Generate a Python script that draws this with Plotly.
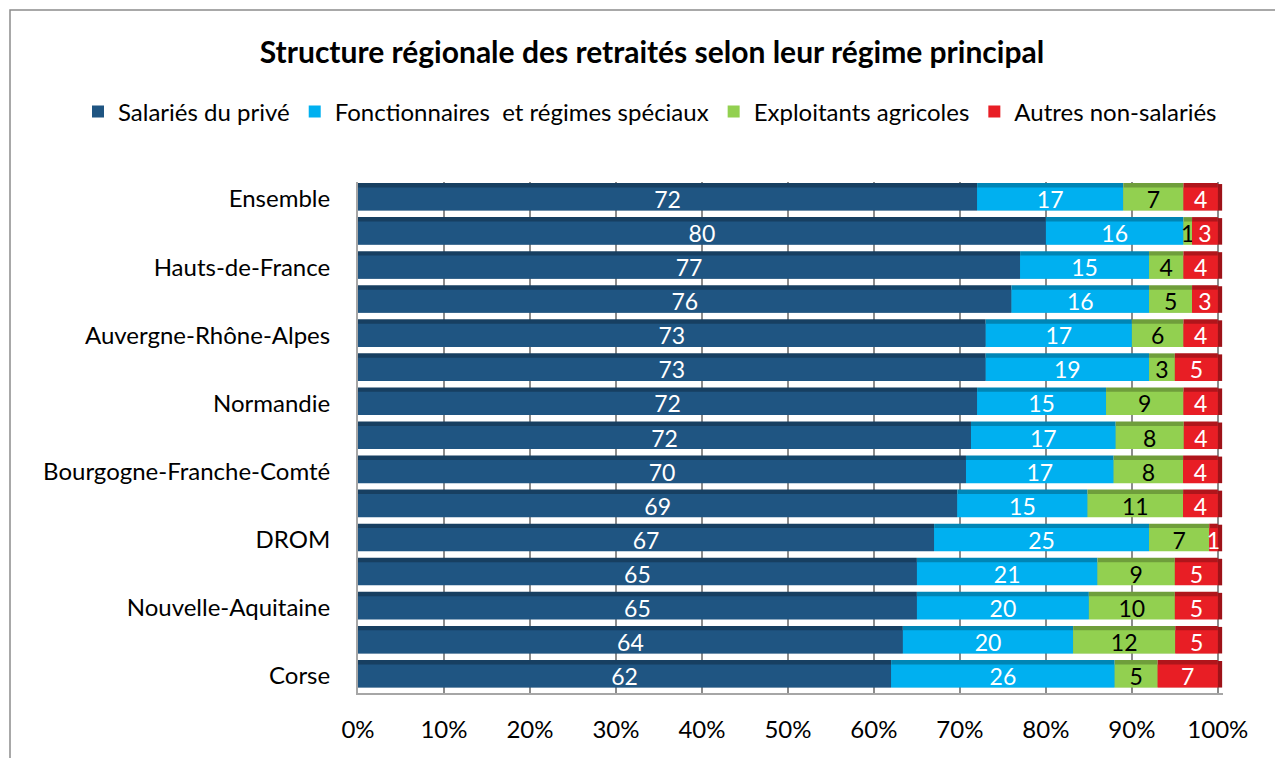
import plotly.graph_objects as go
import numpy as np

categories = ["Ensemble", "Île-de-France", "Hauts-de-France", "Grand Est",
              "Auvergne-Rhône-Alpes", "Provence-Alpes-Côte d'Azur", "Normandie",
              "Centre-Val de Loire", "Bourgogne-Franche-Comté", "Pays de la Loire",
              "DROM", "Occitanie", "Nouvelle-Aquitaine", "Bretagne", "Corse"]
shown_labels = ["Ensemble", "Hauts-de-France", "Auvergne-Rhône-Alpes", "Normandie",
                "Bourgogne-Franche-Comté", "DROM", "Nouvelle-Aquitaine", "Corse"]

salaries_prive = [72, 80, 77, 76, 73, 73, 72, 72, 70, 69, 67, 65, 65, 64, 62]
fonctionnaires = [17, 16, 15, 16, 17, 19, 15, 17, 17, 15, 25, 21, 20, 20, 26]
exploitants = [7, 1, 4, 5, 6, 3, 9, 8, 8, 11, 7, 9, 10, 12, 5]
autres = [4, 3, 4, 3, 4, 5, 4, 4, 4, 4, 1, 5, 5, 5, 7]

series_names = ["Salariés du privé", "Fonctionnaires  et régimes spéciaux",
                "Exploitants agricoles", "Autres non-salariés"]
series_values = [salaries_prive, fonctionnaires, exploitants, autres]
front_colors = ["#1F5582", "#00B0F0", "#92D050", "#E81E25"]
top_colors = ["#173F61", "#0085B5", "#6F9E3B", "#B0151B"]
text_colors = ["white", "white", "black", "white"]
tick_values = [0, 10, 20, 30, 40, 50, 60, 70, 80, 90, 100]
tick_labels = ["0%", "10%", "20%", "30%", "40%", "50%", "60%", "70%", "80%", "90%", "100%"]

vals = np.array(series_values, dtype=float)
totals = vals.sum(axis=0)
pct = vals / totals * 100
bases = np.vstack([np.zeros(len(categories)), np.cumsum(pct, axis=0)[:-1]])

FONT = "Lato"
# page offset of the figure (body margin)
OFF = 8
W, H = 1283, 758
L, R, T, B = 358 - OFF, W - (1223 - OFF), 182 - OFF, H - (693 - OFF)
PW, PH = W - L - R, H - T - B

fig = go.Figure()

# top faces (3D look)
for k in range(4):
    fig.add_trace(go.Bar(
        y=categories, x=pct[k], base=bases[k], orientation="h",
        marker=dict(color=top_colors[k], line=dict(width=0)),
        width=0.8, offset=-0.47, showlegend=False, hoverinfo="skip"))
# right side face on last segment
fig.add_trace(go.Bar(
    y=categories, x=[0.5] * len(categories), base=[100] * len(categories),
    orientation="h", marker=dict(color="#9E1218", line=dict(width=0)),
    width=0.78, offset=-0.44, showlegend=False, hoverinfo="skip"))
# front faces
for k in range(4):
    fig.add_trace(go.Bar(
        y=categories, x=pct[k], base=bases[k], orientation="h",
        name=series_names[k],
        marker=dict(color=front_colors[k], line=dict(width=0)),
        width=0.68, offset=-0.34,
        text=[str(v) for v in series_values[k]],
        textposition="inside", insidetextanchor="middle", textangle=0,
        insidetextfont=dict(color=text_colors[k], size=23, family=FONT),
        cliponaxis=False))

fig.update_layout(
    width=W, height=H,
    barmode="overlay",
    paper_bgcolor="white", plot_bgcolor="white",
    margin=dict(l=L, r=R, t=T, b=B),
    font=dict(family=FONT, size=23, color="black"),
    title=dict(text="<b>Structure régionale des retraités selon leur régime principal</b>",
               x=(652 - OFF) / W, xanchor="center", y=1 - (52 - OFF) / H, yanchor="middle",
               font=dict(size=30, family=FONT, color="black")),
    legend=dict(orientation="h", x=(78 - OFF - L) / PW, xanchor="left",
                y=(H - B - (112 - OFF)) / PH, yanchor="middle",
                font=dict(size=24, family=FONT), traceorder="normal",
                itemwidth=30, tracegroupgap=0),
    uniformtext=dict(mode="show", minsize=23),
    xaxis=dict(range=[0, 100.6], tickvals=tick_values, ticktext=tick_labels,
               showgrid=True, gridcolor="#8C8C8C", gridwidth=2,
               showline=True, linecolor="#A6A6A6", linewidth=2,
               ticks="", ticklabelstandoff=14, zeroline=False,
               tickfont=dict(size=24, family=FONT)),
    yaxis=dict(categoryorder="array", categoryarray=categories, autorange="reversed",
               tickvals=shown_labels, ticktext=shown_labels,
               showgrid=False, showline=True, linecolor="#A6A6A6", linewidth=2,
               ticks="", ticklabelstandoff=21,
               tickfont=dict(size=24, family=FONT)),
    shapes=[dict(type="rect", xref="paper", yref="paper",
                 x0=(10 - OFF - L) / PW, x1=(W + 20 - L) / PW,
                 y0=-B / PH - 0.1, y1=(H - B - (10 - OFF)) / PH,
                 line=dict(color="#8C8C8C", width=1.5), fillcolor="rgba(0,0,0,0)",
                 layer="below")],
)

fig.write_html("out.html")
